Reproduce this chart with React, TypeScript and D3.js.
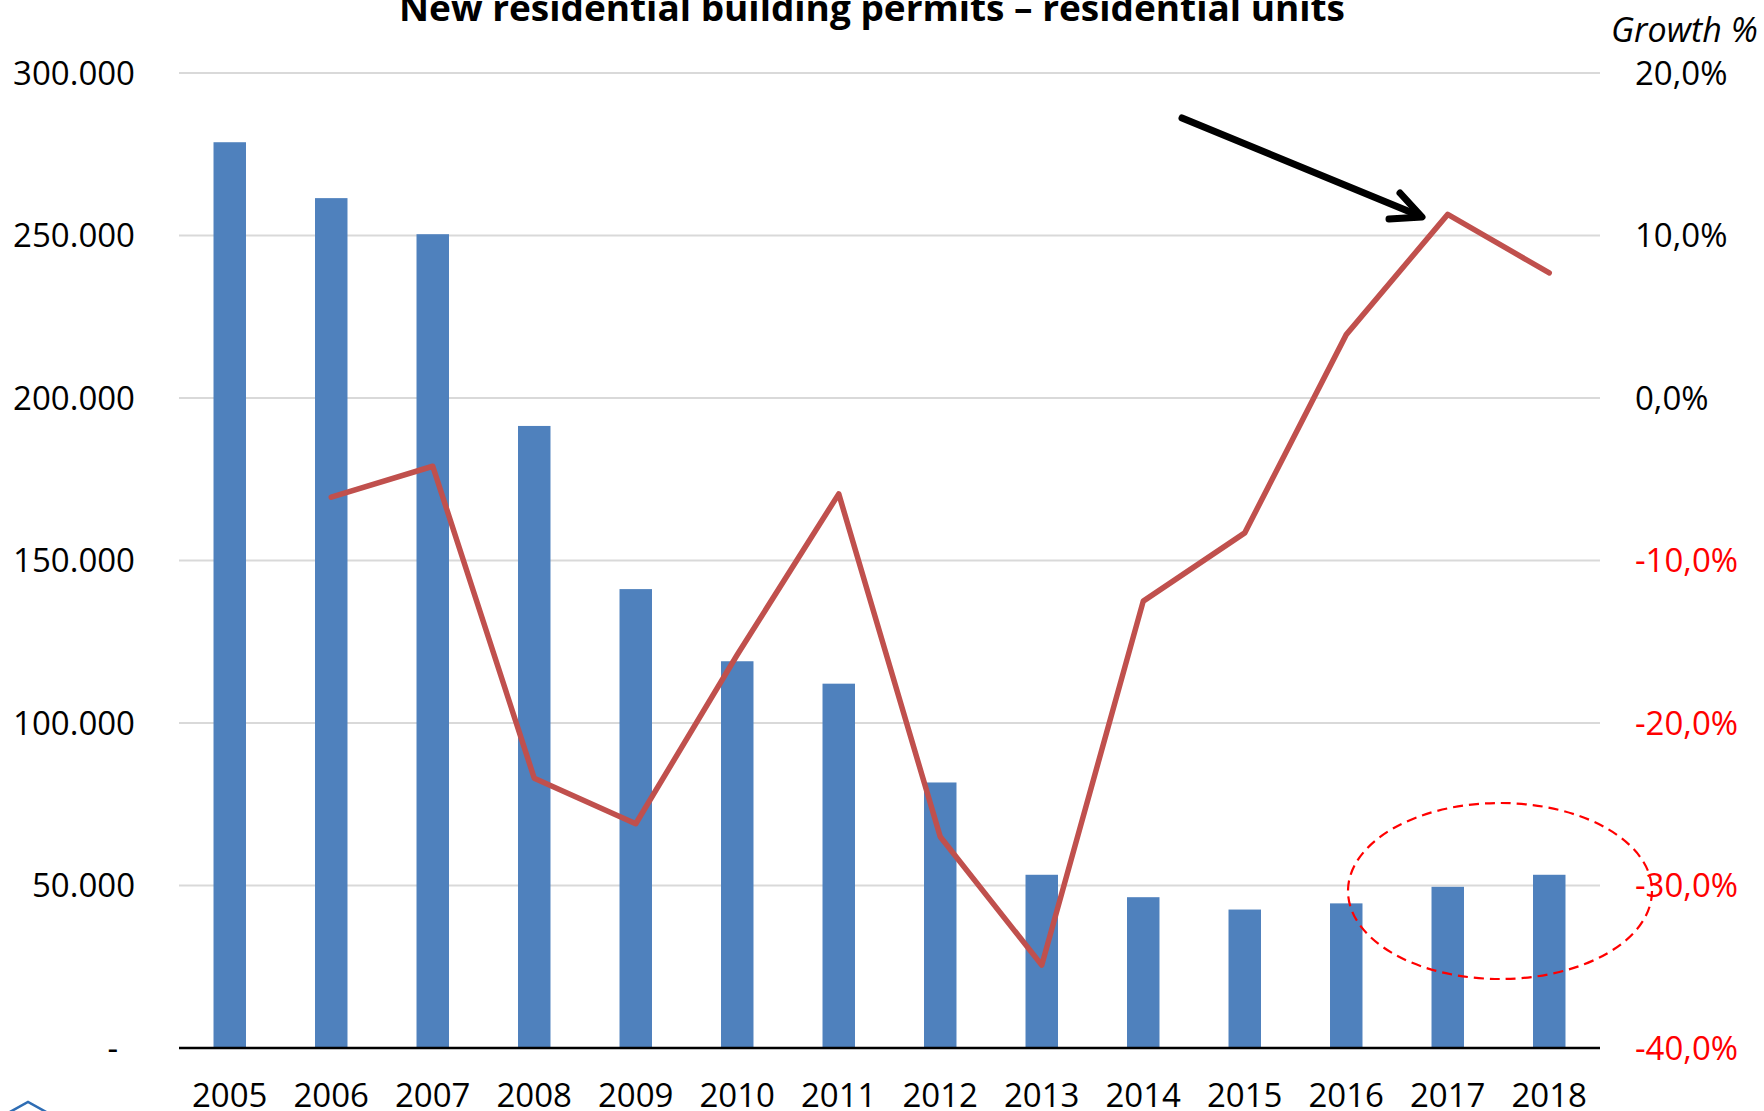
import React from "react";
import * as d3 from "d3";

const years = ["2005","2006","2007","2008","2009","2010","2011","2012","2013","2014","2015","2016","2017","2018"];
const permits = [278700, 261500, 250400, 191400, 141200, 119000, 112100, 81700, 53300, 46400, 42600, 44500, 49600, 53300];
const growthYears = ["2006","2007","2008","2009","2010","2011","2012","2013","2014","2015","2016","2017","2018"];
const growth = [-6.1, -4.2, -23.4, -26.2, -15.8, -5.9, -27.0, -34.9, -12.5, -8.3, 3.9, 11.3, 7.7];
const leftTicks = [0, 50000, 100000, 150000, 200000, 250000, 300000];
const rightTicks = [-40, -30, -20, -10, 0, 10, 20];

const W = 1764, H = 1111;
const L = 179, R = 1600, T = 73, B = 1048;
const FONT = "'Open Sans', 'DejaVu Sans', sans-serif";

export default function App() {
  const x = d3.scaleBand().domain(years).range([L, R]).paddingInner(0.68).paddingOuter(0.34);
  const yL = d3.scaleLinear().domain([0, 300000]).range([B, T]);
  const yR = d3.scaleLinear().domain([-40, 20]).range([B, T]);
  const cx = (y: string) => (x(y) as number) + x.bandwidth() / 2;
  const line = d3.line<number>()
    .x((_, i) => cx(growthYears[i]))
    .y((d) => yR(d));
  const fmtL = (v: number) => (v === 0 ? "-" : d3.format(",")(v).replace(/,/g, "."));
  const fmtR = (v: number) => d3.format(".1f")(v).replace(".", ",").replace("−", "-") + "%";

  return (
    <svg width={W} height={H} style={{ position: "absolute", left: 0, top: 0, display: "block", background: "#fff" }}>
      <text x={872} y={21} textAnchor="middle" fontFamily={FONT} fontWeight={700} fontSize={36}
        textLength={946} lengthAdjust="spacingAndGlyphs" fill="#000">
        New residential building permits – residential units
      </text>
      <text x={1611} y={42} fontFamily={FONT} fontStyle="italic" fontSize={34} fill="#000">Growth %</text>
      {leftTicks.filter((t) => t > 0).map((t) => (
        <line key={"g" + t} x1={L} x2={R} y1={yL(t)} y2={yL(t)} stroke="#D9D9D9" strokeWidth={2} />
      ))}
      {leftTicks.map((t) => (
        <text key={"l" + t} x={t === 0 ? 118 : 135} y={yL(t)} dy="0.36em" textAnchor="end"
          fontFamily={FONT} fontSize={33} fill="#000">{fmtL(t)}</text>
      ))}
      {rightTicks.map((t) => (
        <text key={"r" + t} x={1635} y={yR(t)} dy="0.36em" textAnchor="start"
          fontFamily={FONT} fontSize={33} fill={t < 0 ? "#FF0000" : "#000"}>{fmtR(t)}</text>
      ))}
      {years.map((yr, i) => (
        <rect key={"b" + yr} x={x(yr)} y={yL(permits[i])} width={x.bandwidth()} height={B - yL(permits[i])} fill="#4F81BD" />
      ))}
      <line x1={L} x2={R} y1={B} y2={B} stroke="#000" strokeWidth={2.5} />
      {years.map((yr) => (
        <text key={"x" + yr} x={cx(yr)} y={1107} textAnchor="middle" fontFamily={FONT} fontSize={33} fill="#000">{yr}</text>
      ))}
      <path d={line(growth) || ""} fill="none" stroke="#C0504D" strokeWidth={5.5} strokeLinejoin="round" strokeLinecap="round" />
      <g stroke="#000" strokeWidth={7} strokeLinecap="round" strokeLinejoin="round" fill="none">
        <line x1={1182} y1={118} x2={1420} y2={216} />
        <polyline points="1400,193 1422,217 1389,219" />
      </g>
      <ellipse cx={1500} cy={891} rx={152} ry={88} fill="none" stroke="#FF0000" strokeWidth={2.2} strokeDasharray="10 6" />
      <polyline points="8,1113 28,1102 48,1113" fill="none" stroke="#2E6DB4" strokeWidth={2.5} />
    </svg>
  );
}
